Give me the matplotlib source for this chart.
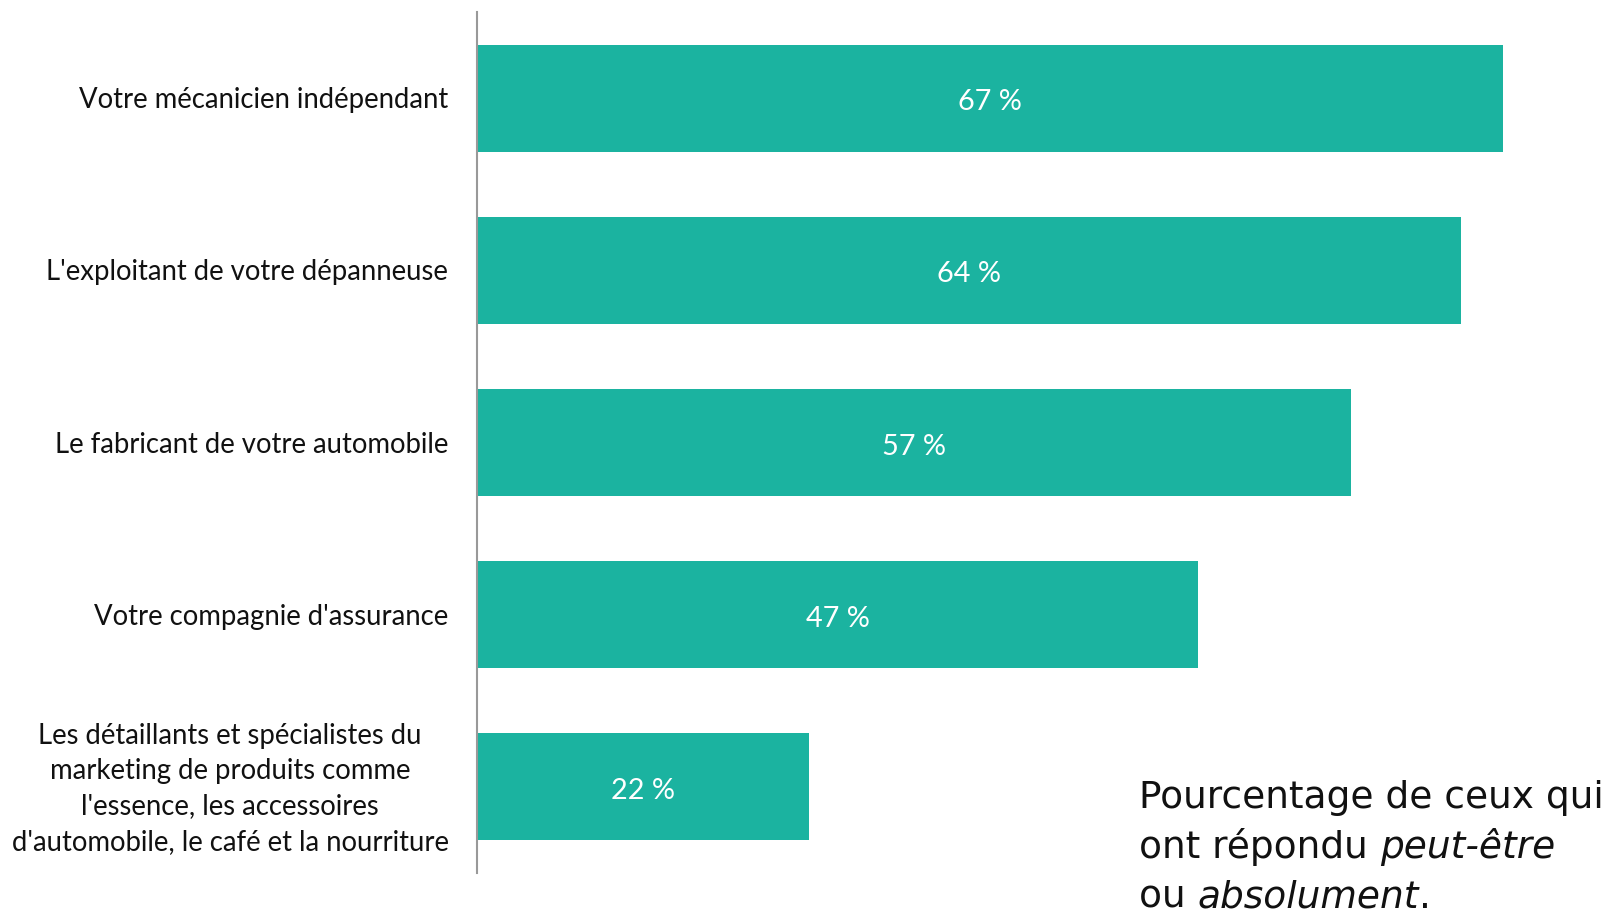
import matplotlib
matplotlib.use("Agg")
import matplotlib.pyplot as plt

categories = [
    "Votre mécanicien indépendant",
    "L'exploitant de votre dépanneuse",
    "Le fabricant de votre automobile",
    "Votre compagnie d'assurance",
    "Les détaillants et spécialistes du\nmarketing de produits comme\nl'essence, les accessoires\nd'automobile, le café et la nourriture",
]
values = [67.0, 64.3, 57.1, 47.1, 21.7]
value_labels = ["67 %", "64 %", "57 %", "47 %", "22 %"]

BAR = "#1bb3a0"
W, H = 1616, 915
fig = plt.figure(figsize=(W / 100, H / 100), dpi=100)
AX_L, AX_T, AX_B = 477, 12, 873
ax = fig.add_axes([AX_L / W, (H - AX_B) / H, (W - AX_L) / W, (AX_B - AX_T) / H])

ypos = list(range(len(categories)))
ax.barh(ypos, values, height=0.622, color=BAR, edgecolor="none")
ax.set_ylim(len(categories) - 0.5, -0.5)
ax.set_xlim(0, 74.4)

for y, v, lab in zip(ypos, values, value_labels):
    ax.annotate(lab, xy=(v / 2, y), xycoords="data", xytext=(0, -4),
                textcoords="offset pixels", ha="center", va="center",
                color="white", fontsize=20.8, family="Lato")

ax.set_yticks([])
ax.set_xticks([])
for s in ["top", "right", "bottom"]:
    ax.spines[s].set_visible(False)
ax.spines["left"].set_color("#999999")
ax.spines["left"].set_linewidth(1.5)

LFS = 19.8
for i, c in enumerate(categories):
    if "\n" in c:
        ax.annotate(c, xy=(0, i), xycoords="data", xytext=(-247, -2),
                    textcoords="offset pixels", ha="center", va="center",
                    fontsize=LFS, family="Lato", color="#111111", linespacing=1.44)
    else:
        ax.annotate(c, xy=(0, i), xycoords="data", xytext=(-29, -2),
                    textcoords="offset pixels", ha="right", va="center",
                    fontsize=LFS, family="Lato", color="#111111")

fig.canvas.draw()
r = fig.canvas.get_renderer()

# note text with italic pieces
fs = 27
lines = [
    [("Pourcentage de ceux qui", "normal")],
    [("ont répondu ", "normal"), ("peut-être", "italic")],
    [("ou ", "normal"), ("absolument", "italic"), (".", "normal")],
]
x0 = 1139
baselines = [808, 858, 908]
for parts, yb in zip(lines, baselines):
    x = x0
    for txt, st in parts:
        t = fig.text(x / W, (H - yb) / H, txt, fontsize=fs, family="DejaVu Sans",
                     style=st, ha="left", va="baseline", color="#111111")
        bb = t.get_window_extent(renderer=r)
        x += bb.width

fig.savefig("out.png", dpi=100)
